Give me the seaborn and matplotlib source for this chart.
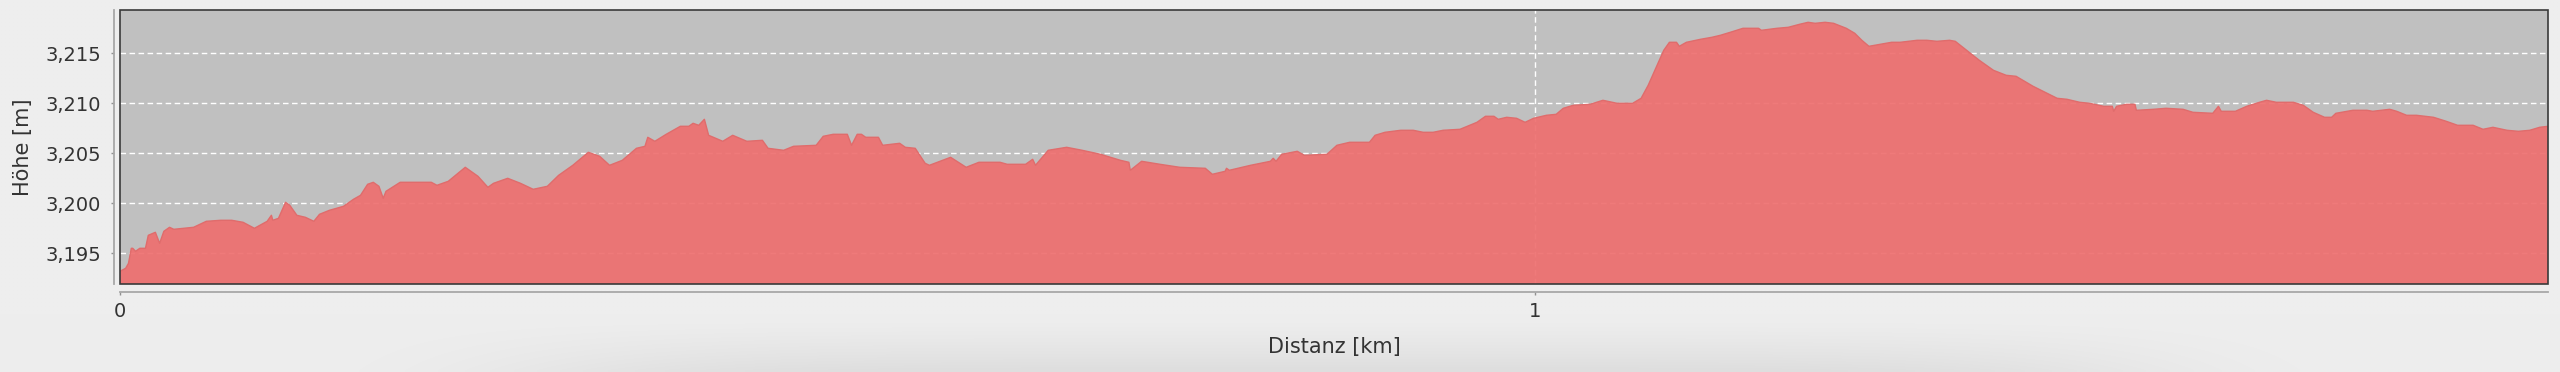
import numpy as np
import pandas as pd
import matplotlib
matplotlib.use("Agg")
import matplotlib.pyplot as plt
from matplotlib.patches import Rectangle
from matplotlib.ticker import FuncFormatter, FixedLocator
import seaborn as sns

# ---- data ----
distance_km = [
    0.000, 0.004, 0.006, 0.008, 0.009, 0.011, 0.014, 0.018, 0.020, 0.025, 0.028, 0.031, 0.035, 0.038,
    0.052, 0.061, 0.071, 0.079, 0.087, 0.095, 0.104, 0.107, 0.108, 0.112, 0.117, 0.120, 0.125, 0.131,
    0.137, 0.141, 0.148, 0.158, 0.165, 0.170, 0.175, 0.179, 0.183, 0.186, 0.188, 0.198, 0.220, 0.224,
    0.232, 0.244, 0.253, 0.260, 0.264, 0.274, 0.283, 0.292, 0.302, 0.310, 0.320, 0.331, 0.339, 0.346,
    0.355, 0.365, 0.371, 0.373, 0.378, 0.386, 0.396, 0.402, 0.405, 0.409, 0.413, 0.416, 0.426, 0.433,
    0.443, 0.454, 0.458, 0.469, 0.476, 0.492, 0.497, 0.504, 0.514, 0.517, 0.521, 0.524, 0.527, 0.536,
    0.539, 0.551, 0.555, 0.562, 0.569, 0.572, 0.587, 0.598, 0.607, 0.622, 0.627, 0.640, 0.645, 0.647,
    0.656, 0.669, 0.680, 0.693, 0.707, 0.713, 0.714, 0.722, 0.735, 0.749, 0.767, 0.772, 0.781, 0.782,
    0.784, 0.799, 0.813, 0.815, 0.817, 0.821, 0.832, 0.837, 0.853, 0.860, 0.869, 0.883, 0.887, 0.894,
    0.905, 0.914, 0.921, 0.928, 0.935, 0.947, 0.959, 0.965, 0.971, 0.974, 0.980, 0.987, 0.993, 0.999,
    1.008, 1.015, 1.020, 1.027, 1.039, 1.048, 1.058, 1.069, 1.075, 1.080, 1.086, 1.091, 1.095, 1.100,
    1.102, 1.107, 1.117, 1.125, 1.131, 1.138, 1.147, 1.158, 1.160, 1.171, 1.179, 1.187, 1.193, 1.198,
    1.205, 1.211, 1.220, 1.226, 1.231, 1.236, 1.244, 1.252, 1.258, 1.270, 1.277, 1.284, 1.293, 1.297,
    1.305, 1.314, 1.324, 1.333, 1.340, 1.352, 1.362, 1.369, 1.376, 1.385, 1.392, 1.402, 1.408, 1.409,
    1.411, 1.418, 1.424, 1.425, 1.437, 1.446, 1.458, 1.465, 1.479, 1.483, 1.485, 1.495, 1.503, 1.512,
    1.517, 1.524, 1.536, 1.543, 1.550, 1.558, 1.563, 1.566, 1.578, 1.588, 1.592, 1.604, 1.609, 1.616,
    1.623, 1.635, 1.644, 1.652, 1.663, 1.670, 1.677, 1.687, 1.695, 1.703, 1.710, 1.716,
]
elevation_m = [
    3193.2, 3193.5, 3194.0, 3195.5, 3195.5, 3195.2, 3195.5, 3195.5, 3196.8, 3197.1, 3196.0, 3197.2, 3197.6, 3197.4,
    3197.6, 3198.2, 3198.3, 3198.3, 3198.1, 3197.5, 3198.2, 3198.8, 3198.3, 3198.5, 3200.1, 3199.8, 3198.8, 3198.6,
    3198.2, 3198.9, 3199.3, 3199.7, 3200.4, 3200.8, 3201.9, 3202.1, 3201.7, 3200.5, 3201.2, 3202.1, 3202.1, 3201.8,
    3202.2, 3203.6, 3202.7, 3201.6, 3202.0, 3202.5, 3202.0, 3201.4, 3201.7, 3202.8, 3203.8, 3205.1, 3204.7, 3203.8,
    3204.3, 3205.5, 3205.7, 3206.6, 3206.2, 3206.9, 3207.7, 3207.7, 3208.0, 3207.8, 3208.4, 3206.8, 3206.2, 3206.8,
    3206.2, 3206.3, 3205.5, 3205.3, 3205.7, 3205.8, 3206.7, 3206.9, 3206.9, 3205.8, 3206.9, 3206.9, 3206.6, 3206.6,
    3205.8, 3206.0, 3205.6, 3205.5, 3204.0, 3203.8, 3204.6, 3203.6, 3204.1, 3204.1, 3203.9, 3203.9, 3204.4, 3203.8,
    3205.3, 3205.6, 3205.3, 3204.9, 3204.3, 3204.1, 3203.3, 3204.2, 3203.9, 3203.6, 3203.5, 3202.9, 3203.2, 3203.5,
    3203.3, 3203.8, 3204.2, 3204.5, 3204.2, 3204.9, 3205.2, 3204.8, 3204.9, 3205.8, 3206.1, 3206.1, 3206.8, 3207.1,
    3207.3, 3207.3, 3207.1, 3207.1, 3207.3, 3207.4, 3208.1, 3208.7, 3208.7, 3208.4, 3208.6, 3208.5, 3208.1, 3208.5,
    3208.8, 3208.9, 3209.5, 3209.8, 3209.9, 3210.3, 3210.0, 3210.0, 3210.5, 3211.8, 3213.7, 3215.3, 3216.1, 3216.1,
    3215.7, 3216.1, 3216.4, 3216.6, 3216.8, 3217.1, 3217.5, 3217.5, 3217.3, 3217.5, 3217.6, 3217.9, 3218.1, 3218.0,
    3218.1, 3218.0, 3217.5, 3217.0, 3216.3, 3215.7, 3215.9, 3216.1, 3216.1, 3216.3, 3216.3, 3216.2, 3216.3, 3216.2,
    3215.3, 3214.3, 3213.3, 3212.8, 3212.7, 3211.7, 3211.0, 3210.5, 3210.4, 3210.1, 3210.0, 3209.7, 3209.7, 3209.2,
    3209.7, 3209.9, 3209.9, 3209.3, 3209.4, 3209.5, 3209.4, 3209.1, 3209.0, 3209.7, 3209.2, 3209.2, 3209.7, 3210.1,
    3210.3, 3210.1, 3210.1, 3209.8, 3209.1, 3208.6, 3208.6, 3209.0, 3209.3, 3209.3, 3209.2, 3209.4, 3209.2, 3208.8,
    3208.8, 3208.6, 3208.2, 3207.8, 3207.8, 3207.4, 3207.6, 3207.3, 3207.2, 3207.3, 3207.6, 3207.7,
]
y_ticks = [3195, 3200, 3205, 3210, 3215]
x_ticks = [0, 1]
x_label = "Distanz [km]"
y_label = "Höhe [m]"

df = pd.DataFrame({"dist": distance_km, "elev": elevation_m})

# ---- style ----
sns.set_style("white")
plt.rcParams["font.family"] = ["DejaVu Sans"]

W, H = 2560, 372
fig = plt.figure(figsize=(W / 100, H / 100), dpi=100, facecolor="#eeeeee")

# subtle shadow under the chart (background decoration)
bg = fig.add_axes([0, 0, 1, 1], zorder=-10)
xx = np.linspace(0, W, 640)
yy = np.linspace(0, H, 93)
X, Y = np.meshgrid(xx, yy)
dark = 16 * np.exp(-((X - 1330) / 820) ** 6) * np.clip((Y - 318) / 54, 0, 1) ** 1.3
img = np.clip(238 - dark, 0, 255) / 255.0
bg.imshow(np.dstack([img, img, img]), extent=[0, W, H, 0], aspect="auto", interpolation="bilinear")
bg.set_axis_off()

left, right = 120 / W, 2547.7 / W
bottom, top = 1 - 284 / H, 1 - 9.5 / H
ax = fig.add_axes([left, bottom, right - left, top - bottom])
ax.set_facecolor("#c0c0c0")

# grid
for yv in y_ticks:
    ax.axhline(yv, color="white", lw=1.0, ls=(0, (4, 2.5)), zorder=1)
ax.axvline(1, color="white", lw=1.0, ls=(0, (4, 2.5)), zorder=1)

# area
ax.fill_between(df["dist"], df["elev"], 3180, color="#ee7070", alpha=0.93, lw=0, zorder=2)
sns.lineplot(data=df, x="dist", y="elev", ax=ax, color="#e06c6c", lw=1.0, zorder=3)

ax.set_xlim(0, 1.7157)
ax.set_ylim(3191.93, 3219.38)

# axes / spines
for s in ["top", "right"]:
    ax.spines[s].set_visible(False)
for s in ["left", "bottom"]:
    ax.spines[s].set_color("#a8a8a8")
    ax.spines[s].set_linewidth(1.3)
ax.spines["left"].set_position(("outward", 4.3))
ax.spines["bottom"].set_position(("outward", 5.8))
ax.add_patch(Rectangle((0, 0), 1, 1, transform=ax.transAxes, fill=False,
                       ec="#3a3a3a", lw=1.2, zorder=10, clip_on=False))

ax.yaxis.set_major_locator(FixedLocator(y_ticks))
ax.xaxis.set_major_locator(FixedLocator(x_ticks))
ax.yaxis.set_major_formatter(FuncFormatter(lambda v, p: f"{v:,.0f}"))
ax.xaxis.set_major_formatter(FuncFormatter(lambda v, p: f"{v:.0f}"))
ax.tick_params(axis="both", which="major", length=2.5, width=1, color="#909090",
               labelsize=14, labelcolor="#333333", left=True, bottom=True)
ax.tick_params(axis="y", pad=7)
ax.tick_params(axis="x", pad=5)
ax.set_xlabel("")
ax.set_ylabel("")

fig.text(22.7 / W, 1 - 146.75 / H, y_label, rotation=90, ha="center", va="center",
         fontsize=15, color="#333333")
fig.text(1334 / W, 1 - 347 / H, x_label, ha="center", va="center",
         fontsize=15, color="#333333")

fig.savefig("out.png", dpi=100, facecolor=fig.get_facecolor())
